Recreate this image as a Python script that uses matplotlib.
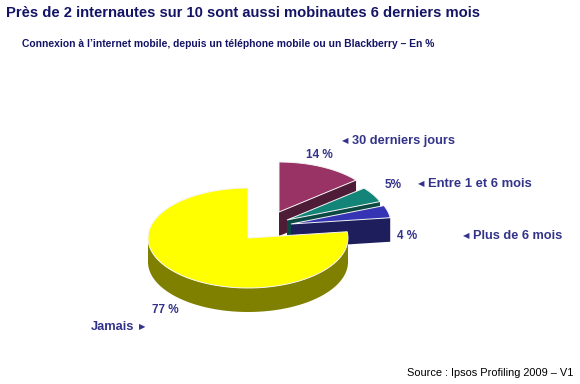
import numpy as np
import matplotlib
matplotlib.use("Agg")
import matplotlib.pyplot as plt
from matplotlib.patches import Polygon

# data
labels = ["30 derniers jours", "Entre 1 et 6 mois", "Plus de 6 mois", "Jamais"]
values = [14, 5, 4, 77]

top_colors = ["#993366", "#138478", "#3434b4", "#ffff00"]
side_colors = ["#4e1c36", "#0b4a42", "#1e1e5c", "#808000"]

# layout, in pixels
RX, RY, DEPTH = 100, 50, 24
center = (248, 238)
explode_px = [(31, -26), (39, -18), (43, -14), (0, 0)]

plt.rcParams["font.family"] = ["Liberation Sans", "DejaVu Sans"]
navy = "#141466"
lab = "#33338a"

fig = plt.figure(figsize=(5.8, 3.84), dpi=100)
ax = fig.add_axes([0, 0, 1, 1])
ax.set_xlim(0, 580)
ax.set_ylim(384, 0)
ax.axis("off")
renderer = fig.canvas.get_renderer()


def fit(t, width):
    # scale the font so the text spans the width seen in the reference
    w = t.get_window_extent(renderer).width
    t.set_fontsize(t.get_fontsize() * width / w)


def arc(cx, cy, a1, a2, n=80):
    t = np.radians(np.linspace(a1, a2, n))
    return np.column_stack([cx + RX * np.cos(t), cy - RY * np.sin(t)])


cum = np.concatenate([[0], np.cumsum(values)]) * 3.6
for i in range(len(values)):
    a1, a2 = 90 - cum[i + 1], 90 - cum[i]
    cx, cy = center[0] + explode_px[i][0], center[1] + explode_px[i][1]
    down = np.array([0, DEPTH])
    # radial faces
    for a, vis in ((a1, np.cos(np.radians(a1)) > 0), (a2, np.cos(np.radians(a2)) < 0)):
        if vis:
            e = arc(cx, cy, a, a, 1)[0]
            c = np.array([cx, cy])
            ax.add_patch(Polygon([c, e, e + down, c + down], closed=True,
                                 fc=side_colors[i], ec="none"))
    # outer wall on the front half
    for k in (-1, 0, 1):
        lo, hi = max(a1, -180 + 360 * k), min(a2, 360 * k)
        if hi > lo:
            pts = arc(cx, cy, lo, hi)
            ax.add_patch(Polygon(np.vstack([pts, (pts + down)[::-1]]), closed=True,
                                 fc=side_colors[i], ec="none"))
    # top
    pts = np.vstack([[cx, cy], arc(cx, cy, a1, a2)])
    ax.add_patch(Polygon(pts, closed=True, fc=top_colors[i], ec="#f4f4f4", lw=0.7))

t = ax.text(6, 13, "Près de 2 internautes sur 10 sont aussi mobinautes 6 derniers mois",
            fontsize=14, fontweight="bold", color=navy, va="center")
fit(t, 474)
t = ax.text(22, 44, "Connexion à l’internet mobile, depuis un téléphone mobile ou un Blackberry – En %",
            fontsize=9, fontweight="bold", color=navy, va="center")
fit(t, 410)

pct_pos = [(306, 155), (385, 185), (397, 236), (152, 310)]
for v, (x, y) in zip(values, pct_pos):
    txt = f"{v}%" if v == 5 else f"{v} %"
    ax.text(x, y, txt, fontsize=8.5, fontweight="bold", color=lab, va="center")

lab_pos = [(342, 141), (418, 184), (463, 236)]
lab_w = [103, 104, 90]
for txt, (x, y), w in zip(labels[:3], lab_pos, lab_w):
    ax.text(x, y, "◀", fontsize=6, color=lab, va="center", family="DejaVu Sans")
    t = ax.text(x + 10, y, txt, fontsize=9, fontweight="bold", color=lab, va="center")
    fit(t, w)
t = ax.text(91, 327, labels[3], fontsize=9, fontweight="bold", color=lab, va="center")
fit(t, 44)
ax.text(139, 327, "▶", fontsize=6, color=lab, va="center", family="DejaVu Sans")

t = ax.text(573, 373, "Source : Ipsos Profiling 2009 – V1", fontsize=8.8, color="black",
            ha="right", va="center")
fit(t, 168)

fig.savefig("out.png", dpi=100, facecolor="white")
